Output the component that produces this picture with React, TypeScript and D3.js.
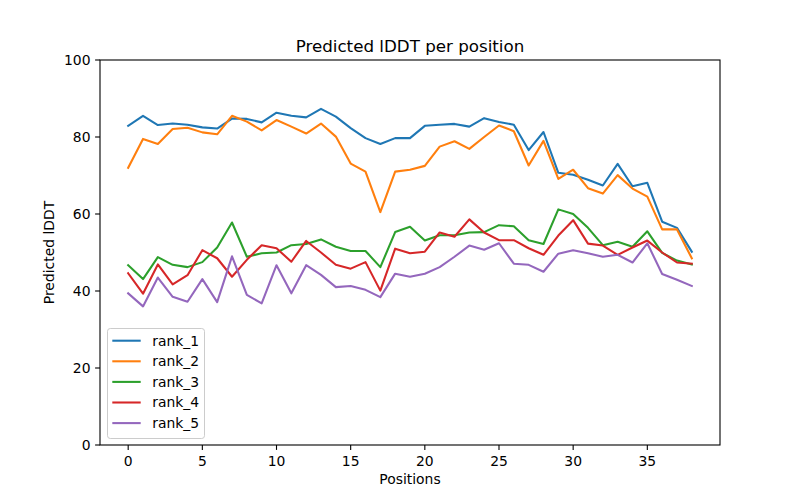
import React from "react";
import * as d3 from "d3";

const seriesNames = ["rank_1", "rank_2", "rank_3", "rank_4", "rank_5"];
const colors = ["#1f77b4", "#ff7f0e", "#2ca02c", "#d62728", "#9467bd"];

const rank1 = [82.9, 85.5, 83.1, 83.5, 83.2, 82.5, 82.2, 84.8, 84.7, 83.8, 86.3, 85.5, 85.1, 87.3, 85.3, 82.3, 79.7, 78.2, 79.7, 79.7, 82.9, 83.2, 83.4, 82.7, 84.9, 83.9, 83.2, 76.6, 81.3, 70.7, 70.2, 68.9, 67.4, 73.0, 67.2, 68.1, 58.0, 56.4, 50.2];
const rank2 = [72.0, 79.5, 78.2, 82.1, 82.4, 81.2, 80.7, 85.5, 84.0, 81.7, 84.4, 82.7, 80.9, 83.5, 80.1, 73.1, 71.0, 60.5, 71.0, 71.5, 72.5, 77.5, 78.9, 76.9, 80.0, 83.0, 81.5, 72.6, 79.0, 69.1, 71.5, 66.7, 65.3, 70.1, 66.6, 64.5, 56.0, 56.0, 48.5];
const rank3 = [46.7, 43.1, 48.8, 46.8, 46.2, 47.5, 51.3, 57.8, 48.9, 49.8, 50.0, 51.9, 52.2, 53.4, 51.5, 50.4, 50.4, 46.2, 55.3, 56.7, 53.1, 54.5, 54.5, 55.2, 55.3, 57.1, 56.8, 53.2, 52.2, 61.2, 60.0, 56.4, 51.9, 52.8, 51.5, 55.5, 49.9, 47.9, 46.9];
const rank4 = [44.6, 39.3, 46.9, 41.7, 44.1, 50.6, 48.5, 43.7, 48.1, 51.9, 51.1, 47.6, 53.0, 50.0, 46.8, 45.8, 47.5, 40.1, 51.0, 49.8, 50.2, 55.2, 54.1, 58.6, 55.2, 53.2, 53.2, 51.1, 49.4, 54.4, 58.4, 52.3, 51.8, 49.4, 51.3, 53.1, 50.0, 47.4, 47.1];
const rank5 = [39.4, 36.0, 43.5, 38.5, 37.2, 43.1, 37.1, 49.0, 39.0, 36.8, 46.7, 39.4, 46.7, 44.2, 41.0, 41.3, 40.3, 38.4, 44.5, 43.7, 44.5, 46.2, 48.9, 51.8, 50.7, 52.4, 47.1, 46.8, 45.0, 49.7, 50.6, 49.8, 48.9, 49.4, 47.4, 52.4, 44.4, 42.9, 41.3];
const allSeries = [rank1, rank2, rank3, rank4, rank5];

const xTicks = [0, 5, 10, 15, 20, 25, 30, 35];
const yTicks = [0, 20, 40, 60, 80, 100];

const W = 800, H = 500;
const L = 100, R = 720, T = 60, B = 445;
const FONT = "DejaVu Sans, sans-serif";

export default function App() {
  const n = rank1.length - 1;
  const x = d3.scaleLinear().domain([-0.05 * n, 1.05 * n]).range([L, R]);
  const y = d3.scaleLinear().domain([0, 100]).range([B, T]);
  const line = d3
    .line<number>()
    .x((_, i) => x(i))
    .y((d) => y(d));

  const legX = 107.5, legY = 328.5, legW = 97, legH = 110;
  const rowH = 20.6;

  return (
    <svg
      width={W}
      height={H}
      style={{ position: "absolute", left: 0, top: 0, background: "#fff" }}
      fontFamily={FONT}
    >
      <rect x={0} y={0} width={W} height={H} fill="#fff" />
      <defs>
        <clipPath id="plot">
          <rect x={L} y={T} width={R - L} height={B - T} />
        </clipPath>
      </defs>
      <g clipPath="url(#plot)">
        {allSeries.map((s, k) => (
          <path
            key={k}
            d={line(s) || ""}
            fill="none"
            stroke={colors[k]}
            strokeWidth={2.08}
            strokeLinejoin="round"
            strokeLinecap="square"
          />
        ))}
      </g>
      <rect x={L} y={T} width={R - L} height={B - T} fill="none" stroke="#000" strokeWidth={1.1} />
      {xTicks.map((t) => (
        <g key={t}>
          <line x1={x(t)} x2={x(t)} y1={B} y2={B + 4.9} stroke="#000" strokeWidth={1.1} />
          <text x={x(t)} y={466} textAnchor="middle" fontSize={13.9} fill="#000">
            {t}
          </text>
        </g>
      ))}
      {yTicks.map((t) => (
        <g key={t}>
          <line x1={L - 4.9} x2={L} y1={y(t)} y2={y(t)} stroke="#000" strokeWidth={1.1} />
          <text x={90.5} y={y(t)} dy="0.35em" textAnchor="end" fontSize={13.9} fill="#000">
            {t}
          </text>
        </g>
      ))}
      <text x={(L + R) / 2} y={51.5} textAnchor="middle" fontSize={16.7} fill="#000">
        Predicted lDDT per position
      </text>
      <text x={(L + R) / 2} y={484} textAnchor="middle" fontSize={13.9} fill="#000">
        Positions
      </text>
      <text
        transform={`translate(54,${(T + B) / 2}) rotate(-90)`}
        textAnchor="middle"
        fontSize={13.9}
        fill="#000"
      >
        Predicted lDDT
      </text>
      <g>
        <rect
          x={legX}
          y={legY}
          width={legW}
          height={legH}
          rx={2.8}
          fill="#fff"
          fillOpacity={0.8}
          stroke="#cccccc"
          strokeWidth={1}
        />
        {seriesNames.map((name, k) => {
          const cy = 340.7 + k * rowH;
          return (
            <g key={name}>
              <line x1={112.3} x2={140.7} y1={cy} y2={cy} stroke={colors[k]} strokeWidth={2.08} />
              <text x={152.3} y={cy} dy="0.35em" fontSize={13.9} fill="#000">
                {name}
              </text>
            </g>
          );
        })}
      </g>
    </svg>
  );
}
